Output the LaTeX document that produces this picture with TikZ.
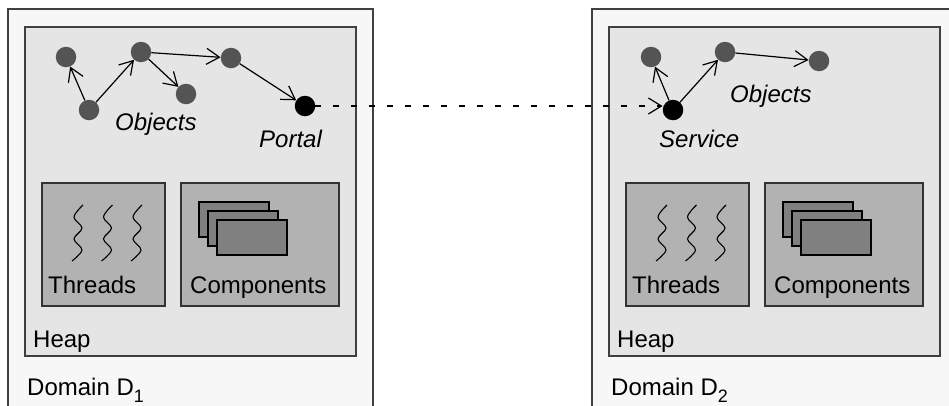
\documentclass[tikz,border=0pt]{standalone}
\usepackage{fontspec}
\setmainfont{Liberation Sans}
\usetikzlibrary{arrows.meta}

\tikzset{
  domainbox/.style={draw=black!75, fill=black!3, line width=1.4pt},
  heapbox/.style={draw=black!75, fill=black!10, line width=1.4pt},
  partbox/.style={draw=black!80, fill=black!30, line width=1.2pt},
  comprect/.style={draw=black, fill=black!50, line width=1.4pt},
  wave/.style={draw=black, line width=1.1pt},
  obj/.style={circle, fill=black!67, minimum size=20.5pt, inner sep=0pt},
  endpoint/.style={circle, fill=black, minimum size=20.5pt, inner sep=0pt},
  link/.style={draw=black, line width=1.2pt, -{Straight Barb[length=13pt,width=16pt,line width=1.2pt]}},
  remote/.style={link, dash pattern=on 6pt off 12pt},
  lbl/.style={inner sep=0pt, anchor=base west, font=\fontsize{24}{28}\selectfont},
  ilbl/.style={lbl, font=\fontsize{24}{28}\selectfont\itshape},
}

% Subscript index of a domain name, set low and fairly large
\newcommand{\domidx}[1]{\raisebox{-7pt}{\fontsize{18}{20}\selectfont #1}}

% One protection domain: its frame, heap, thread and component boxes
\newcommand{\protdomain}[3]{%
  \begin{scope}[xshift=#2]
    \path[domainbox] (8,9) rectangle (373,430);
    \path[heapbox] (25,27) rectangle (356,356);
    \path[partbox] (42,183) rectangle (165,306);
    \path[partbox] (181,183) rectangle (339,306);
    \foreach \dx in {0,29.5,59}
      \draw[wave, shift={(\dx,0)}] plot[smooth, tension=0.6]
        coordinates {(83,205) (74,217) (82,228) (74,239) (82,250) (72,261)};
    \path[comprect] (199,202) rectangle ++(70,35);
    \path[comprect] (208,211) rectangle ++(70,35);
    \path[comprect] (217,220) rectangle ++(70,35);
    \node[lbl] (#1threads) at (48,293) {Threads};
    \node[lbl] (#1components) at (190,293) {Components};
    \node[lbl] (#1heap) at (33,347) {Heap};
    \node[lbl] (#1domain) at (27,395) {Domain D\domidx{#3}};
  \end{scope}%
}

\begin{document}
\begin{tikzpicture}[x=1pt, y=-1pt]
  \path[use as bounding box] (0,0) rectangle (949,405);
  \clip (0,0) rectangle (949,405);
  \fill[white] (0,0) rectangle (949,405);

  \protdomain{a}{0pt}{1}
  \protdomain{b}{584pt}{2}

  % objects of domain D1
  \node[obj] (a1) at (66,57) {};
  \node[obj] (a2) at (89,110) {};
  \node[obj] (a3) at (141,52) {};
  \node[obj] (a4) at (186,94) {};
  \node[obj] (a5) at (231,58) {};
  \node[endpoint] (portal) at (305,106) {};
  \draw[link] (a2) -- (a1);
  \draw[link] (a2) -- (a3);
  \draw[link] (a3) -- (a4);
  \draw[link] (a3) -- (a5);
  \draw[link] (a5) -- (portal);
  \node[ilbl] (aobjects) at (115,130) {Objects};
  \node[ilbl] (portallbl) at (259,147) {Portal};

  % objects of domain D2
  \node[obj] (b1) at (651,57) {};
  \node[endpoint] (service) at (673,110) {};
  \node[obj] (b2) at (725,52) {};
  \node[obj] (b3) at (819,61) {};
  \draw[link] (service) -- (b1);
  \draw[link] (service) -- (b2);
  \draw[link] (b2) -- (b3);
  \node[ilbl] (bobjects) at (730,102) {Objects};
  \node[ilbl] (servicelbl) at (659,147) {Service};

  % cross-domain reference from portal to service
  \draw[remote] (portal.east) -- (portal.east -| service.west);
\end{tikzpicture}
\end{document}
